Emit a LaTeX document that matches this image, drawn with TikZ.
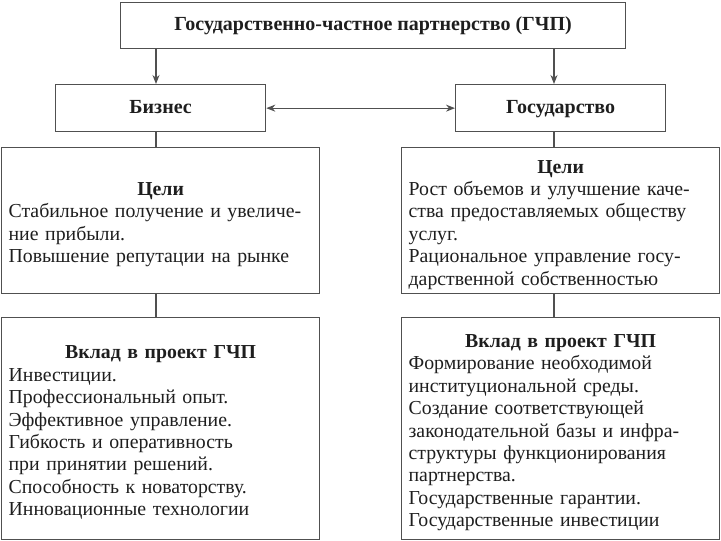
\documentclass[tikz,border=0pt]{standalone}
\usepackage{fontspec}
\setmainfont{Liberation Serif}
\usetikzlibrary{arrows.meta}
\definecolor{linegray}{HTML}{505050}
\definecolor{txt}{HTML}{1E1E1E}
\newcommand{\boxtitle}[1]{{\centering\bfseries\rule{0pt}{21pt}#1\par}}
\tikzset{
  boxstyle/.style={draw=linegray, line width=1.3pt, rectangle, anchor=north west, inner sep=0pt, text=txt},
  headstyle/.style={boxstyle, text height=14pt, text depth=4pt, font=\bfseries\fontsize{20}{22}\selectfont},
  bodystyle/.style={boxstyle, inner xsep=7pt, align=left, font=\fontsize{19.8}{22.4}\selectfont},
  conn/.style={draw=linegray, line width=1.2pt},
  arr/.style={conn, -{Stealth[length=9pt,width=7pt]}},
  darr/.style={conn, {Stealth[length=9pt,width=7pt]}-{Stealth[length=9pt,width=7pt]}},
}
\begin{document}
\begin{tikzpicture}[x=1pt,y=-1pt]
\useasboundingbox (0,0) rectangle (721,541);
\node[headstyle, minimum width=505pt, minimum height=46pt] (top) at (120,2) {Государственно-частное партнерство (ГЧП)};
\node[headstyle, minimum width=210pt, minimum height=47pt] (biz) at (55,84) {Бизнес};
\node[headstyle, minimum width=210pt, minimum height=47pt] (gos) at (455,84) {Государство};
\node[bodystyle, text width=304pt, minimum height=146pt] (bg) at (1,147) {\boxtitle{Цели}Стабильное получение и увеличе-\\ние прибыли.\\Повышение репутации на рынке};
\node[bodystyle, text width=304pt, minimum height=146pt] (gg) at (401,147) {\boxtitle{Цели}Рост объемов и улучшение каче-\\ства предоставляемых обществу\\услуг.\\Рациональное управление госу-\\дарственной собственностью};
\node[bodystyle, text width=304pt, minimum height=222pt] (bv) at (1,317) {\boxtitle{Вклад в проект ГЧП}Инвестиции.\\Профессиональный опыт.\\Эффективное управление.\\Гибкость и оперативность\\при принятии решений.\\Способность к новаторству.\\Инновационные технологии};
\node[bodystyle, text width=304pt, minimum height=222pt] (gv) at (401,317) {\boxtitle{Вклад в проект ГЧП}Формирование необходимой\\институциональной среды.\\Создание соответствующей\\законодательной базы и инфра-\\структуры функционирования\\партнерства.\\Государственные гарантии.\\Государственные инвестиции};
\coordinate (lx) at (156,0);
\coordinate (rx) at (554,0);
\draw[arr] (top.south -| lx) -- (biz.north -| lx);
\draw[arr] (top.south -| rx) -- (gos.north -| rx);
\draw[darr] (biz.east) -- (gos.west);
\draw[conn] (biz.south -| lx) -- (bg.north -| lx);
\draw[conn] (gos.south -| rx) -- (gg.north -| rx);
\draw[conn] (bg.south -| lx) -- (bv.north -| lx);
\draw[conn] (gg.south -| rx) -- (gv.north -| rx);
\end{tikzpicture}
\end{document}
